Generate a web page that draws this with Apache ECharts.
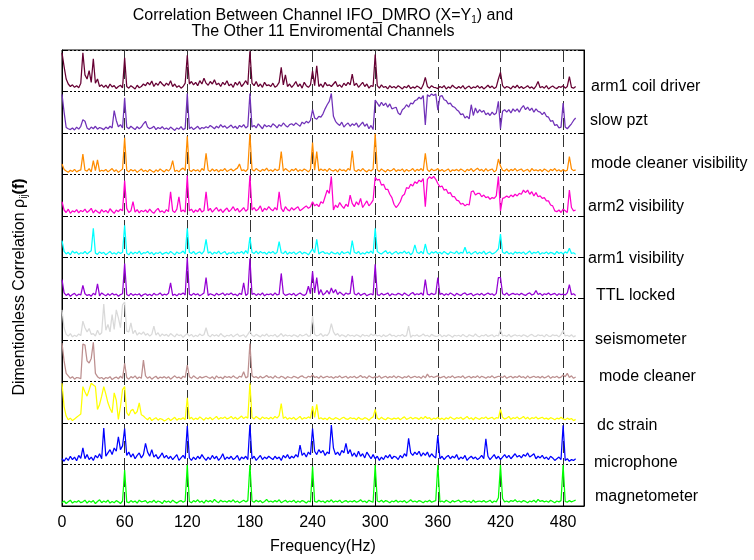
<!DOCTYPE html>
<html><head><meta charset="utf-8">
<script src="https://cdn.jsdelivr.net/npm/echarts@6/dist/echarts.min.js"></script>
<style>html,body{margin:0;padding:0;background:#fff}#c{width:754px;height:560px}</style>
</head><body><div id="c"></div>
<script>
// Frequency sampling step (Hz); values are correlation in percent of a band, sampled every 2 Hz from 0 to 492 Hz
const FREQ_STEP = 2;
const tickLabels = ['0','60','120','180','240','300','360','420','480'];
const channelNames = ['arm1 coil driver','slow pzt','mode cleaner visibility','arm2 visibility','arm1 visibility','TTL locked','seismometer','mode cleaner','dc strain','microphone','magnetometer'];
const channelColors = ['#660033','#7031B8','#FF8C00','#FF00CC','#00FFFF','#9400D3','#D9D9D9','#BC8F8F','#FFFF00','#0000FF','#00FF00'];

const arm1CoilDriver = [
93,60,30,18,12,16,10,14,9,20, 93,40,30,50,22,79,20,30,12,16, 10,15,8,18,11,14,7,12,15,9, 81,12,8,14,10,6,15,9,12,18,
14,22,16,25,12,20,15,24,18,13, 20,15,26,12,18,10,14,8,12,20, 87,18,24,16,22,14,26,18,32,20, 15,24,18,28,16,20,12,22,16,26,
14,18,10,22,15,24,12,18,26,16, 97,20,14,24,12,18,10,22,14,16, 12,20,10,14,22,58,16,40,12,18, 10,16,24,12,18,8,22,14,10,16,
50,14,62,12,18,10,22,14,16,12, 18,24,12,16,10,20,14,22,16,42, 14,20,10,16,22,12,18,8,14,12, 89,14,8,16,10,12,6,14,9,12,
8,14,10,6,12,9,15,7,11,8, 13,10,6,16,34,12,8,14,10,9, 7,12,9,14,6,11,8,15,10,7, 12,8,14,6,10,13,7,11,9,14,
8,12,6,10,15,9,13,7,11,30, 46,14,8,12,10,6,13,9,15,8, 12,7,10,14,8,11,6,13,24,9, 12,8,14,6,10,13,9,7,12,10,
14,8,12,36,10,8,12];
const slowPzt = [
93,50,13,10,8,12,7,14,9,16, 32,28,12,8,14,10,16,9,13,11, 8,14,10,16,12,54,30,15,20,12, 85,14,10,16,12,8,15,10,14,22,
28,14,10,12,16,8,13,10,15,9, 12,8,14,10,6,12,9,15,8,11, 95,10,14,8,12,16,9,13,11,15, 12,18,14,10,16,12,20,14,17,11,
15,19,12,16,10,18,14,20,12,16, 95,14,18,12,22,16,10,20,15,18, 14,22,18,12,20,16,24,18,14,20, 22,18,24,20,16,26,22,28,24,30,
56,36,33,40,38,46,58,68,76,95, 40,28,22,18,26,14,20,24,16,22, 18,24,14,20,26,16,22,10,18,8, 79,72,64,74,66,72,62,70,58,60,
62,48,44,56,60,68,62,72,70,78, 80,86,82,90,19,92,88,94,90,94, 55,88,90,80,78,70,72,64,62,56, 52,44,46,36,40,34,68,42,60,48,
56,50,54,44,48,42,50,44,48,76, 10,52,56,50,56,48,58,52,58,50, 60,66,56,62,54,60,50,58,52,50, 44,50,40,38,28,30,18,20,12,14,
72,14,10,16,22,30,36];
const modeCleanerVisibility = [
25,12,8,5,10,7,12,6,9,11, 49,10,8,14,6,33,9,35,7,10, 8,12,6,10,14,7,11,5,9,13, 88,10,6,12,8,11,5,9,13,7,
10,6,12,8,5,11,7,13,9,6, 12,8,14,33,7,10,6,12,15,9, 92,10,7,12,8,11,6,14,9,51, 10,7,13,8,12,6,11,9,14,7,
10,13,8,12,15,25,9,11,7,13, 98,12,8,14,10,7,12,9,15,8, 11,7,13,9,12,55,8,14,10,6, 12,9,14,7,11,8,13,10,6,12,
77,10,55,8,13,9,12,7,14,10, 8,12,6,13,9,11,7,14,10,57, 10,7,12,8,14,9,6,11,8,13, 98,11,7,13,9,6,12,8,10,14,
7,11,9,13,6,12,8,10,14,7, 12,9,14,8,51,11,7,13,9,10, 14,8,12,7,10,13,6,11,9,12, 8,13,10,6,12,9,14,7,11,15,
9,12,7,14,8,11,13,6,10,37, 20,10,8,13,7,12,9,14,8,11, 13,7,10,12,6,14,9,11,8,12, 7,13,10,6,12,9,14,8,11,7,
12,8,10,43,13,9,11];
const arm2Visibility = [
34,14,8,16,6,12,9,15,7,13, 10,16,8,12,18,7,14,10,6,15, 9,13,7,17,11,6,14,10,16,12, 85,18,8,12,34,9,15,7,13,10,
14,8,16,10,6,13,18,9,12,7, 15,10,58,12,8,16,46,10,14,9, 97,12,16,8,14,10,18,9,13,58, 12,18,9,15,20,11,16,8,14,19,
10,15,22,12,18,9,14,20,11,16, 97,14,20,12,16,24,10,18,14,22, 16,12,20,14,58,18,10,22,15,12, 20,14,18,22,12,16,20,24,18,22,
34,24,28,22,34,30,46,62,54,95, 14,26,20,32,24,18,28,22,50,30, 22,34,26,42,20,28,36,24,30,38, 93,86,88,74,76,64,64,52,44,28,
20,26,34,48,52,68,66,76,72,82, 78,86,82,90,22,88,94,90,95,88, 78,70,72,62,64,54,56,46,46,38, 36,28,30,24,28,26,58,60,50,54,
54,46,50,44,46,40,44,42,48,95, 12,42,44,48,44,50,46,52,48,54, 52,62,56,62,52,58,48,56,46,48, 42,44,36,36,26,24,12,10,14,8,
16,12,8,62,20,12,14];
const arm1Visibility = [
40,14,8,12,6,15,10,13,7,11, 9,14,8,12,16,70,10,7,13,9, 12,6,10,14,8,11,7,13,9,12, 77,10,6,13,8,12,9,15,7,11,
10,14,8,12,6,11,9,13,7,10, 12,8,14,10,6,13,9,11,15,8, 70,12,9,14,7,11,13,8,15,43, 10,13,7,12,9,15,8,11,14,6,
11,9,13,7,12,10,14,8,16,9, 48,12,9,15,8,14,10,12,7,13, 10,14,8,12,38,11,9,15,7,12, 9,13,7,11,14,8,12,10,6,13,
20,11,43,8,12,14,9,11,7,13, 10,8,12,6,14,9,11,13,7,40, 12,9,14,7,11,8,13,10,15,9, 70,14,10,8,12,16,9,13,7,11,
14,8,12,10,15,9,13,6,11,30, 12,9,14,8,32,11,7,13,10,14, 9,12,8,14,10,7,13,11,9,15, 8,12,10,24,9,13,7,11,14,8,
12,9,15,7,11,13,8,10,14,20, 56,12,9,14,8,11,7,13,10,12, 9,13,7,11,15,8,12,10,14,7, 11,9,13,8,12,10,7,14,9,12,
8,13,10,22,9,11,7];
const ttlLocked = [
46,14,8,12,6,10,13,7,11,9, 32,12,8,10,6,13,9,36,7,14, 10,7,12,8,13,9,11,6,10,12, 85,10,7,13,8,11,9,12,6,10,
12,8,11,7,13,9,10,14,8,11, 9,13,38,8,11,7,12,10,14,9, 99,11,8,13,9,12,7,10,14,51, 8,12,10,7,13,9,11,14,8,12,
10,14,9,11,7,13,10,38,8,12, 97,10,13,8,12,9,14,7,11,10, 12,8,14,9,11,61,13,8,10,12, 9,13,7,11,14,10,8,12,30,12,
66,14,51,10,22,9,13,20,11,26, 14,22,10,16,12,8,14,11,13,55, 12,9,14,8,11,13,7,10,12,9, 83,10,8,13,9,11,14,7,12,10,
9,13,11,8,14,10,7,12,15,9, 12,10,14,8,46,11,9,13,10,12, 51,10,13,8,12,9,14,11,7,13, 10,8,12,14,9,11,13,7,10,12,
9,13,8,11,14,10,12,8,13,51, 51,12,9,14,8,11,13,10,12,9, 13,10,8,12,14,9,11,20,10,13, 8,12,10,14,9,11,13,8,12,10,
11,9,14,34,10,12,8];
const seismometer = [
73,30,14,10,16,8,12,9,15,11, 46,30,20,28,14,16,10,24,13,18, 87,24,38,20,62,26,73,54,30,85, 92,22,20,42,16,24,12,18,14,20,
12,16,10,14,34,12,18,9,15,11, 14,9,16,12,8,15,11,13,7,12, 16,10,14,8,12,9,15,11,13,30, 12,8,14,10,13,9,16,11,8,12,
10,14,8,12,15,9,11,13,7,14, 22,12,9,14,11,8,13,10,15,9, 12,10,14,8,11,16,9,13,10,12, 9,13,11,8,14,10,12,15,9,11,
58,14,10,12,16,9,13,11,18,40, 20,12,16,9,13,11,8,14,10,12, 9,13,11,8,14,10,12,9,15,11, 14,10,12,8,13,9,11,15,10,12,
8,12,10,14,9,11,34,7,12,10, 13,9,11,15,10,12,8,14,11,9, 10,14,8,12,9,13,11,7,12,10, 12,9,14,10,8,13,11,9,15,10,
8,12,10,14,9,11,13,8,12,10, 26,10,12,9,14,8,11,13,10,12, 9,13,11,8,12,14,10,9,13,11, 12,8,14,10,9,13,11,12,8,14,
24,10,12,9,13,8,11];
const modeCleaner = [
93,50,20,14,8,12,6,10,9,7, 91,88,50,45,56,95,20,12,8,10, 6,10,8,12,5,9,11,7,13,8, 44,10,6,12,9,14,7,11,8,52,
14,8,12,6,10,13,7,11,9,12, 8,12,6,10,14,9,11,7,13,10, 40,12,8,14,10,7,12,9,11,13, 10,8,12,6,14,9,11,7,13,10,
12,9,14,10,8,13,11,24,9,12, 92,14,10,12,8,13,9,11,15,10, 12,8,14,10,9,13,11,7,12,10, 9,13,11,8,12,14,10,9,13,11,
16,10,12,8,14,9,11,13,10,12, 8,12,10,14,9,11,13,8,12,10, 13,9,11,15,10,12,8,14,11,9, 12,10,14,8,11,13,9,12,10,14,
9,13,11,8,12,10,14,9,11,13, 10,12,8,14,9,18,11,13,10,12, 14,9,11,13,8,12,10,14,9,11, 12,10,14,8,11,13,9,12,10,14,
9,13,11,8,12,10,14,9,11,13, 12,10,14,8,11,13,9,12,10,14, 10,12,8,14,9,11,13,10,12,9, 13,9,11,14,8,12,10,13,9,11,
16,12,20,10,14,8,11];
const dcStrain = [
96,40,17,8,12,6,10,14,18,22, 88,75,65,80,96,92,88,33,45,65, 88,70,49,35,25,73,55,9,40,81, 88,25,18,30,33,22,28,49,20,17,
12,8,14,6,10,13,7,11,9,5, 8,12,6,10,14,7,11,9,13,8, 61,10,14,8,12,9,15,11,7,13, 10,14,8,12,16,9,13,11,15,10,
12,16,10,14,9,13,17,11,15,12, 96,14,10,16,12,9,15,11,13,10, 14,10,16,12,18,47,11,15,9,13, 10,14,8,12,16,9,13,11,15,12,
41,14,45,10,13,9,12,8,14,10, 9,13,11,8,12,14,10,9,13,11, 12,8,14,10,9,13,11,7,12,15, 33,12,9,14,10,8,13,11,9,12,
10,13,8,12,15,9,11,14,10,13, 12,9,14,10,16,11,13,8,12,10, 14,9,12,8,13,10,15,11,9,13, 11,14,9,12,16,10,13,8,14,11,
9,13,11,15,10,12,14,9,13,12, 33,14,10,12,16,9,13,11,15,10, 12,16,10,14,9,13,11,15,10,12, 14,10,12,9,13,11,8,12,10,14,
10,8,12,9,11,6,9];
const microphone = [
14,8,16,10,20,12,18,9,22,15, 40,14,24,12,18,10,22,16,26,14, 88,20,28,36,24,40,32,67,36,45, 87,22,30,18,26,14,22,28,16,24,
51,30,20,36,18,24,14,20,28,16, 22,14,20,12,18,24,10,16,22,14, 93,16,10,18,12,20,14,24,16,10, 18,12,22,14,20,10,16,26,12,18,
14,20,12,16,22,10,18,14,20,12, 96,14,20,10,16,22,12,18,14,20, 16,12,20,14,18,10,22,16,24,14, 20,16,24,18,47,22,28,18,30,24,
87,32,24,36,28,34,22,30,26,95, 40,24,30,22,34,28,51,26,36,20, 28,18,32,20,26,16,30,22,14,24, 14,20,10,18,12,22,16,24,14,20,
18,12,22,16,26,20,63,28,22,30, 24,32,20,28,22,30,18,26,20,16, 71,14,20,12,18,22,14,20,16,24, 12,18,14,22,10,16,20,14,18,12,
16,22,14,62,20,12,18,24,14,20, 12,18,24,16,22,14,20,26,18,22, 16,24,20,28,18,22,26,14,20,16, 22,14,18,12,20,16,10,14,18,12,
95,10,14,8,12,10,14];
const magnetometer = [
8,12,6,10,14,7,11,9,13,8, 10,14,7,12,9,13,6,11,15,8, 12,9,14,7,11,8,13,10,6,12, 87,10,8,13,9,12,7,14,10,11,
13,7,11,9,14,8,12,10,6,13, 9,12,8,14,10,7,11,13,9,12, 99,11,8,13,10,15,9,12,7,14, 10,13,9,16,11,8,14,10,12,9,
13,10,15,9,12,8,11,14,10,13, 99,12,9,14,10,13,8,11,16,10, 12,9,13,10,15,8,11,14,9,12, 10,14,8,12,9,13,11,7,12,10,
95,11,9,14,10,12,8,13,10,15, 9,12,10,14,8,11,13,9,12,10, 13,9,11,15,10,12,8,14,11,9, 99,12,10,14,9,13,11,8,12,10,
14,9,12,10,13,8,11,15,10,12, 9,13,11,8,12,10,14,9,11,13, 99,10,12,9,14,11,8,13,10,12, 14,9,11,13,10,12,8,14,9,11,
12,10,13,9,11,14,8,12,10,20, 99,18,10,12,9,13,11,15,10,12, 9,13,11,8,12,10,14,9,16,11, 13,10,12,9,14,11,8,12,10,13,
99,11,9,13,10,12,14];

const channelValues = [arm1CoilDriver, slowPzt, modeCleanerVisibility, arm2Visibility, arm1Visibility, ttlLocked, seismometer, modeCleaner, dcStrain, microphone, magnetometer];

// label placement (layout only)
const labelPos = [[591,88],[590,122],[591,165],[588,208],[588,260],[596,297],[595,341],[599,378],[597,427],[594,464],[595,498]];

const BAND = 100;
const nBands = channelNames.length;
const series = channelValues.map((vals, k) => {
  const offset = (nBands - 1 - k) * BAND;
  return {
    name: channelNames[k], type: 'line', showSymbol: false, symbol: 'none',
    lineStyle: { color: channelColors[k], width: 1.25 }, itemStyle: { color: channelColors[k] },
    z: 3 + k, silent: true,
    data: vals.map((v, i) => [i * FREQ_STEP, offset + v])
  };
});

const chart = echarts.init(document.getElementById('c'), null, { renderer: 'canvas' });
const FONT = 'Liberation Sans, Arial, Helvetica, sans-serif';
const graphics = channelNames.map((n, k) => ({
  type: 'text', left: labelPos[k][0], top: labelPos[k][1] - 9, z: 100,
  style: { text: n, fill: '#000', font: '16px ' + FONT }
}));
graphics.push({
  type: 'text', z: 100, x: 20, y: 287, rotation: Math.PI / 2,
  style: {
    text: 'Dimentionless Correlation ρ{s|ij}{b|(f)}', fill: '#000', font: '16px ' + FONT,
    align: 'center', verticalAlign: 'middle',
    rich: { s: { fontSize: 10, fontFamily: FONT, verticalAlign: 'bottom', padding: [8, 0, 0, 0] }, b: { fontSize: 16, fontWeight: 'bold', fontFamily: FONT } }
  }
});
graphics.push({
  type: 'text', z: 100, x: 323, y: 24,
  style: {
    text: 'Correlation Between Channel IFO_DMRO (X=Y{s|1}) and\nThe Other 11 Enviromental Channels',
    fill: '#000', font: '16px ' + FONT, align: 'center', verticalAlign: 'middle', lineHeight: 16,
    rich: { s: { fontSize: 10, fontFamily: FONT, padding: [8, 0, 0, 0], lineHeight: 16 } }
  }
});

chart.setOption({
  animation: false,
  backgroundColor: '#fff',
  grid: { left: 62, right: 170, top: 50, bottom: 45, show: true, borderColor: '#000', borderWidth: 1, backgroundColor: 'transparent' },
  xAxis: {
    type: 'value', min: 0, max: 500, interval: 60,
    name: 'Frequency(Hz)', nameLocation: 'middle', nameGap: 33,
    nameTextStyle: { fontSize: 16, color: '#000', fontFamily: FONT },
    axisLine: { show: true, lineStyle: { color: '#000' } },
    axisTick: { show: true, inside: true, length: 5, lineStyle: { color: '#000' } },
    axisLabel: { fontSize: 16, color: '#000', fontFamily: FONT, margin: 9, showMaxLabel: false,
      formatter: v => tickLabels.includes(String(v)) ? String(v) : '' },
    splitLine: { show: true, lineStyle: { color: '#333', type: [12, 5], width: 1 } }
  },
  yAxis: [{
    type: 'value', min: 0, max: nBands * BAND, interval: BAND,
    axisLine: { show: true, lineStyle: { color: '#000' } },
    axisTick: { show: true, inside: true, length: 4, lineStyle: { color: '#000' } },
    axisLabel: { show: false },
    splitLine: { show: true, lineStyle: { color: '#000', type: [2, 2], width: 1 } }
  }, {
    type: 'value', min: 0, max: nBands * BAND, interval: BAND, position: 'right',
    axisLine: { show: true, lineStyle: { color: '#000' } },
    axisTick: { show: true, inside: true, length: 4, lineStyle: { color: '#000' } },
    axisLabel: { show: false }, splitLine: { show: false }
  }],
  series: series,
  graphic: graphics
});
</script>
</body></html>
